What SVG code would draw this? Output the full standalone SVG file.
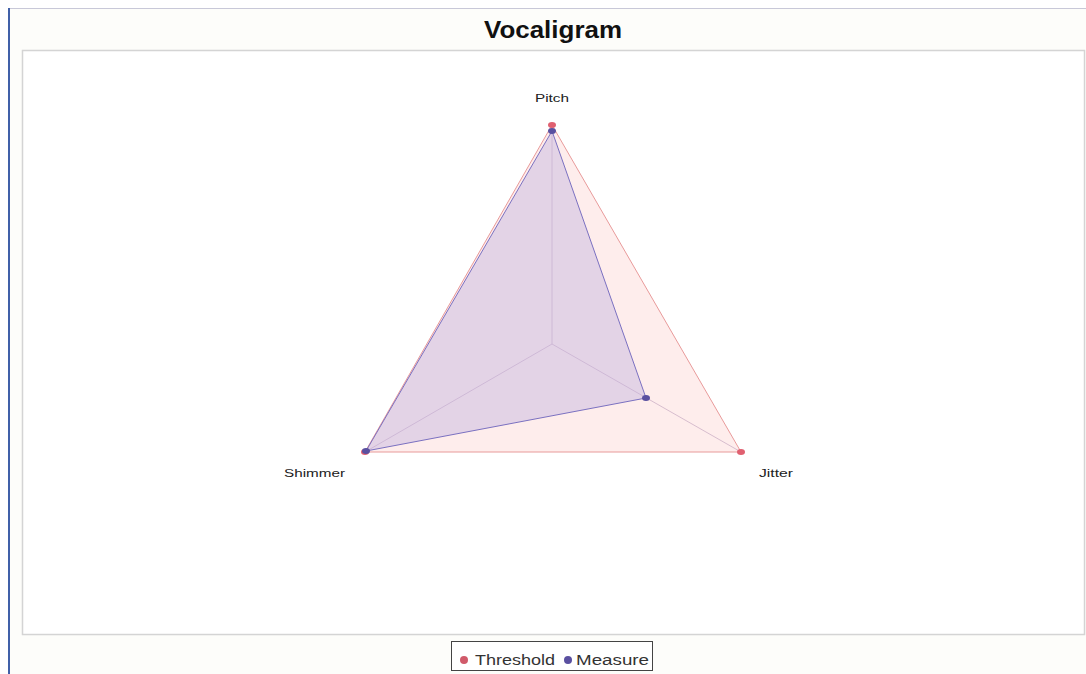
<svg xmlns="http://www.w3.org/2000/svg" width="1086" height="674" viewBox="0 0 1086 674">
<style>
.lbl{font-family:"Liberation Sans",Arial,sans-serif;font-size:10px;fill:#222}
.axis{stroke:#b8a8c8;stroke-width:1;fill:none}
.leg{font-family:"Liberation Sans",Arial,sans-serif;font-size:14px;fill:#333}
</style>
<rect x="0" y="0" width="1086" height="674" fill="#ffffff"/>
<rect x="9" y="8" width="1077" height="666" fill="#fdfdfa"/>
<line x1="9" y1="8.5" x2="1086" y2="8.5" stroke="#c8c8d8" stroke-width="1"/>
<line x1="9" y1="8" x2="9" y2="674" stroke="#4060a8" stroke-width="2"/>
<text x="484" y="38" textLength="138" lengthAdjust="spacingAndGlyphs" font-family="Liberation Sans,Arial,sans-serif" font-size="23" font-weight="bold" fill="#111">Vocaligram</text>
<rect x="22.5" y="50.5" width="1062" height="584" fill="#ffffff" stroke="#d4d4d4" stroke-width="1.5"/>
<g id="axes">
<line class="axis" x1="552" y1="344" x2="552" y2="125"/>
<line class="axis" x1="552" y1="344" x2="365" y2="452"/>
<line class="axis" x1="552" y1="344" x2="741" y2="452"/>
</g>
<g id="threshold">
<polygon points="552,125 741,452 365,452" fill="#fcd6d4" fill-opacity="0.45" stroke="#e89a9a" stroke-width="1"/>
<ellipse cx="552" cy="125" rx="4" ry="3" fill="#e06070"/>
<ellipse cx="741" cy="452" rx="4" ry="3" fill="#e06070"/>
<ellipse cx="365" cy="452" rx="4" ry="3" fill="#e06070"/>
</g>
<g id="measure">
<polygon points="552,131 646,398 366,451" fill="#c4b4e0" fill-opacity="0.45" stroke="#7a70c0" stroke-width="1"/>
<ellipse cx="552" cy="131" rx="4" ry="3" fill="#5a50a0"/>
<ellipse cx="646" cy="398" rx="4" ry="3" fill="#5a50a0"/>
<ellipse cx="366" cy="451" rx="4" ry="3" fill="#5a50a0"/>
</g>
<g id="labels">
<text class="lbl" x="535" y="102" textLength="34" lengthAdjust="spacingAndGlyphs">Pitch</text>
<text class="lbl" x="284" y="477" textLength="61" lengthAdjust="spacingAndGlyphs">Shimmer</text>
<text class="lbl" x="759" y="477" textLength="34" lengthAdjust="spacingAndGlyphs">Jitter</text>
</g>
<g id="legend">
<rect x="451.5" y="641.5" width="201" height="29" fill="#ffffff" stroke="#444" stroke-width="1"/>
<circle cx="464" cy="660" r="4" fill="#d05a6a"/>
<text class="leg" x="475" y="665" textLength="80" lengthAdjust="spacingAndGlyphs">Threshold</text>
<circle cx="568" cy="660" r="4" fill="#5a50a0"/>
<text class="leg" x="576" y="665" textLength="73" lengthAdjust="spacingAndGlyphs">Measure</text>
</g>
</svg>
